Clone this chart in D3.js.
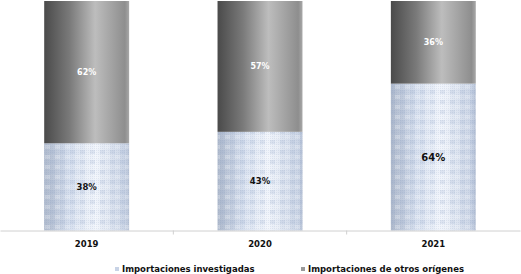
<!DOCTYPE html>
<html><head><meta charset="utf-8">
<script src="https://cdn.jsdelivr.net/npm/d3@7"></script>
<style>body{margin:0;background:#fff}svg{display:block}</style>
</head><body><svg id="c" width="521" height="274"></svg>
<script>
const categories = ["2019", "2020", "2021"];
const investigadas = [38, 43, 64];
const otros = [62, 57, 36];
const seriesNames = ["Importaciones investigadas", "Importaciones de otros orígenes"];

const W = 521, H = 274;
const m = {left: 0, right: 1, top: 1, bottom: 44};
const svg = d3.select("#c");
const font = "'DejaVu Sans', Verdana, sans-serif";

const defs = svg.append("defs");
const gDark = defs.append("linearGradient").attr("id", "gDark").attr("x1", "0").attr("x2", "1").attr("y1", "0").attr("y2", "0");
[[0, "#4a4a4a"], [0.3, "#7a7a7a"], [0.6, "#bdbdbd"], [0.95, "#8e8e8e"], [1, "#a8a8a8"]].forEach(s => gDark.append("stop").attr("offset", s[0]).attr("stop-color", s[1]));
const gLight = defs.append("linearGradient").attr("id", "gLight").attr("x1", "0").attr("x2", "1").attr("y1", "0").attr("y2", "0");
[[0, "#aeb9cc"], [0.3, "#d6dfee"], [0.6, "#f0f4fb"], [0.95, "#cad4e5"], [1, "#b8c3d6"]].forEach(s => gLight.append("stop").attr("offset", s[0]).attr("stop-color", s[1]));
const pat = defs.append("pattern").attr("id", "pChk").attr("patternUnits", "userSpaceOnUse").attr("width", 10).attr("height", 10);
pat.append("rect").attr("x", 0).attr("y", 0).attr("width", 5).attr("height", 4).attr("fill", "#8fa3c8").attr("opacity", 0.2);
pat.append("rect").attr("x", 5).attr("y", 5).attr("width", 5).attr("height", 4).attr("fill", "#ffffff").attr("opacity", 0.25);
const pat2 = defs.append("pattern").attr("id", "pDot").attr("patternUnits", "userSpaceOnUse").attr("width", 2).attr("height", 2);
pat2.append("rect").attr("width", 1).attr("height", 1).attr("fill", "#7f90b5").attr("opacity", 0.15);

const x = d3.scaleBand().domain(categories).range([m.left, W - m.right]).paddingInner(0.51).paddingOuter(0.255);
const y = d3.scaleLinear().domain([0, 100]).range([H - m.bottom + 0.5, m.top]);

const stack = categories.map((c, i) => ({c, a: investigadas[i], b: otros[i]}));

const g = svg.append("g");
const lower = g.selectAll(".lo").data(stack).enter();
["url(#gLight)", "url(#pChk)", "url(#pDot)"].forEach(f => {
  lower.append("rect").attr("x", d => x(d.c)).attr("width", x.bandwidth())
    .attr("y", d => y(d.a)).attr("height", d => y(0) - y(d.a)).attr("fill", f);
});
g.selectAll(".up").data(stack).enter().append("rect").attr("x", d => x(d.c)).attr("width", x.bandwidth())
  .attr("y", d => y(d.a + d.b)).attr("height", d => y(d.a) - y(d.a + d.b)).attr("fill", "url(#gDark)");

g.selectAll(".lt").data(stack).enter().append("text")
  .attr("x", d => x(d.c) + x.bandwidth() / 2).attr("y", d => (y(0) + y(d.a)) / 2)
  .attr("text-anchor", "middle").attr("dominant-baseline", "central")
  .attr("font-family", font).attr("font-weight", "bold").attr("fill", "#111")
  .attr("font-size", (d, i) => i === 2 ? 10 : 8.5).text(d => d.a + "%");
g.selectAll(".ut").data(stack).enter().append("text")
  .attr("x", d => x(d.c) + x.bandwidth() / 2).attr("y", d => (y(d.a) + y(d.a + d.b)) / 2)
  .attr("text-anchor", "middle").attr("dominant-baseline", "central")
  .attr("font-family", font).attr("font-weight", "bold").attr("fill", "#fff")
  .attr("font-size", 8).text(d => d.b + "%");

const ax = svg.append("g").attr("transform", `translate(0,${y(0)})`)
  .call(d3.axisBottom(x).tickSize(0).tickPadding(10));
ax.select(".domain").attr("stroke", "#d0d0d0");
ax.selectAll("text").attr("font-family", font).attr("font-weight", "bold").attr("font-size", 8.5).attr("fill", "#111");
const step = x.step();
const bounds = categories.slice(1).map(c => x(c) - (step - x.bandwidth()) / 2);
ax.selectAll(".sep").data(bounds).enter().append("line")
  .attr("x1", d => d).attr("x2", d => d).attr("y1", 0).attr("y2", 4).attr("stroke", "#d0d0d0");

const leg = svg.append("g").attr("transform", "translate(0,269)");
const legX = [115, 301];
const fills = ["#c8d3e6", "#9a9a9a"];
seriesNames.forEach((n, i) => {
  leg.append("rect").attr("x", legX[i]).attr("y", -2).attr("width", 4).attr("height", 4).attr("fill", fills[i]);
  leg.append("text").attr("x", legX[i] + 7).attr("y", 0).attr("dominant-baseline", "central")
    .attr("font-family", font).attr("font-weight", "bold").attr("font-size", 8.5).attr("fill", "#111").text(n);
});
</script></body></html>
